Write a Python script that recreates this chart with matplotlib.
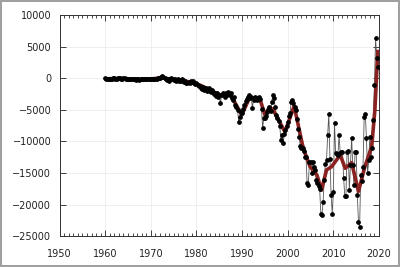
import numpy as np
import matplotlib
matplotlib.use("Agg")
import matplotlib.pyplot as plt

start_year = 1960
# quarterly values, one row per year (1960..2019)
q_values = [
    [0, -100, -200, -100],          # 1960
    [-150, -50, -100, 0],           # 1961
    [50, -50, -100, 0],             # 1962
    [0, 50, -50, -100],             # 1963
    [0, 50, -50, -150],             # 1964
    [-100, -200, -150, -100],       # 1965
    [-50, -100, -200, -250],        # 1966
    [-150, -200, -250, -200],       # 1967
    [-150, -100, -150, -200],       # 1968
    [-150, -100, -50, -100],        # 1969
    [-150, -100, -50, -100],        # 1970
    [-50, -100, 0, 50],             # 1971
    [100, 250, 300, 200],           # 1972
    [100, -100, -300, -200],        # 1973
    [-400, -100, 100, -200],        # 1974
    [-300, -100, -400, -300],       # 1975
    [-200, -500, -400, -100],       # 1976
    [-300, -600, -500, -700],       # 1977
    [-800, -600, -700, -500],       # 1978
    [-600, -400, -800, -900],       # 1979
    [-700, -1000, -1300, -1200],    # 1980
    [-1500, -1700, -1400, -1900],   # 1981
    [-1600, -2100, -1800, -1500],   # 1982
    [-2000, -2200, -1800, -2500],   # 1983
    [-2400, -2800, -2300, -3000],   # 1984
    [-2700, -4000, -2600, -2300],   # 1985
    [-2500, -3000, -2300, -2600],   # 1986
    [-2200, -2700, -2400, -3200],   # 1987
    [-3500, -3000, -4200, -4600],   # 1988
    [-5000, -6900, -6200, -5300],   # 1989
    [-5500, -4800, -4200, -3600],   # 1990
    [-3300, -2900, -2600, -3100],   # 1991
    [-3000, -4700, -3400, -2900],   # 1992
    [-3100, -3500, -3200, -3000],   # 1993
    [-3300, -4800, -7900, -6300],   # 1994
    [-6300, -6000, -5400, -5000],   # 1995
    [-4500, -5200, -3700, -2600],   # 1996
    [-3200, -4500, -5800, -6300],   # 1997
    [-6800, -7500, -9800, -9000],   # 1998
    [-10300, -8800, -8200, -7500],  # 1999
    [-7000, -6000, -5500, -3700],   # 2000
    [-3500, -4000, -4500, -5000],   # 2001
    [-6500, -8000, -9250, -10800],  # 2002
    [-11000, -11100, -11500, -12400],  # 2003
    [-12400, -16600, -16900, -13200],  # 2004
    [-13200, -15000, -13200, -14000],  # 2005
    [-14500, -16100, -16500, -17000],  # 2006
    [-17500, -21400, -21600, -19500],  # 2007
    [-16100, -13500, -13000, -9000],   # 2008
    [-5600, -12700, -18500, -21400],   # 2009
    [-18000, -7100, -11900, -12000],   # 2010
    [-12150, -8980, -11900, -11700],   # 2011
    [-11600, -15800, -18700, -18700],  # 2012
    [-11600, -11500, -17700, -13700],  # 2013
    [-9500, -13700, -16900, -11600],   # 2014
    [-11600, -18500, -22700, -23500],  # 2015
    [-15300, -16300, -14000, -6100],   # 2016
    [-5700, -9500, -15000, -13000],    # 2017
    [-9250, -12400, -11000, -6600],    # 2018
    [-1070, 6300, 3150, 1800],         # 2019
]

smooth_years = [1960.0, 1963, 1966, 1969, 1971, 1972.5, 1974, 1976, 1978.6, 1980.8,
                1983, 1985.2, 1987.4, 1989.9, 1991.7, 1993.9, 1995.0, 1996.0, 1996.8,
                1997.6, 1999.4, 2001.4, 2003.4, 2004.9, 2006.4, 2007.4, 2008.5, 2009.6,
                2011.5, 2012.6, 2014.0, 2015.5, 2016.9, 2018.4, 2019.1, 2019.75]
smooth_values = [-100, -50, -150, -150, -50, 150, -150, -300, -600, -1100,
                 -1900, -2650, -2500, -5800, -3000, -3300, -5800, -4600, -5000,
                 -6100, -8500, -4400, -11100, -14000, -15300, -17700, -14500, -14000,
                 -12150, -14250, -13350, -17900, -14000, -10800, -5000, 4500]

x_ticks = [1950, 1960, 1970, 1980, 1990, 2000, 2010, 2020]
y_ticks = [-25000, -20000, -15000, -10000, -5000, 0, 5000, 10000]

vals = np.array(q_values, dtype=float).ravel()
times = start_year + np.arange(len(vals)) * 0.25

fig = plt.figure(figsize=(4.0, 2.67), dpi=100)
fig.patch.set_edgecolor('#a0a0a0')
fig.patch.set_linewidth(1.5)
ax = fig.add_axes([0.149, 0.115, 0.7985, 0.829])

ax.plot(times, vals, color='#555555', lw=0.6, zorder=2)
ax.plot(smooth_years, smooth_values, color='#8b2222', lw=2.6, zorder=3,
        solid_capstyle='butt')
ax.plot(times, vals, 'o', color='black', ms=2.4, mec='black', zorder=4)

ax.set_xlim(1950, 2020)
ax.set_ylim(-25000, 10000)
ax.set_xticks(x_ticks)
ax.set_yticks(y_ticks)
ax.set_xticks(np.arange(1950, 2021, 1), minor=True)
ax.grid(True, which='major', color='#ececec', lw=0.6, zorder=0)
ax.tick_params(axis='both', which='major', direction='in', length=4, width=0.6,
               top=True, right=True, labelsize=7, colors='#222222', pad=6)
ax.tick_params(axis='x', which='major', pad=9)
ax.tick_params(axis='x', which='minor', direction='in', length=2.5, width=0.5,
               top=True, bottom=True)
ax.tick_params(axis='y', which='minor', left=False, right=False)
for s in ax.spines.values():
    s.set_color('#333333')
    s.set_linewidth(0.7)

fig.savefig('out.png', dpi=100, edgecolor=fig.get_edgecolor())
